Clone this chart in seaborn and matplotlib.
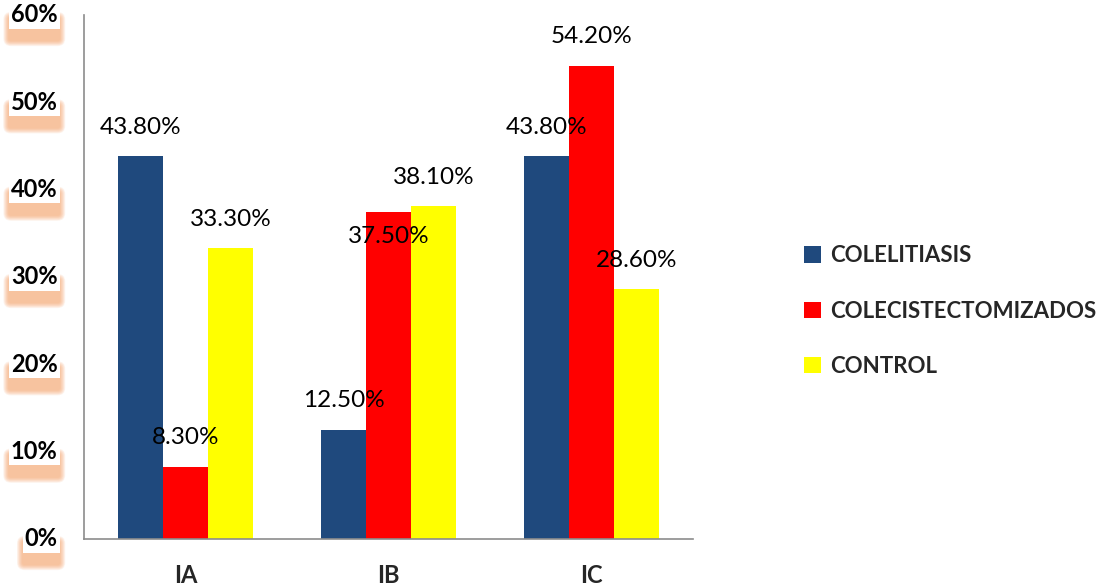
import matplotlib
matplotlib.use("Agg")
import matplotlib.pyplot as plt
import matplotlib.transforms as mtrans
from matplotlib.patches import FancyBboxPatch, Rectangle
import seaborn as sns
import pandas as pd
import numpy as np

categories = ["IA", "IB", "IC"]
series = ["COLELITIASIS", "COLECISTECTOMIZADOS", "CONTROL"]
colelitiasis = [43.8, 12.5, 43.8]
colecistectomizados = [8.3, 37.5, 54.2]
control = [33.3, 38.1, 28.6]
colors = ["#1F497D", "#FF0000", "#FFFF00"]
yticks = [0, 10, 20, 30, 40, 50, 60]

rows = []
for s, vals in zip(series, [colelitiasis, colecistectomizados, control]):
    for c, v in zip(categories, vals):
        rows.append({"cat": c, "serie": s, "val": v})
df = pd.DataFrame(rows)

sns.set_theme(style="white")
plt.rcParams["font.family"] = ["Lato", "DejaVu Sans"]

fig = plt.figure(figsize=(10.99, 5.88), dpi=100)
ax = fig.add_axes([84/1099, 49/588, (693-84)/1099, (539-15)/588])

sns.barplot(data=df, x="cat", y="val", hue="serie", hue_order=series,
            order=categories, palette=colors, width=0.665, gap=0,
            saturation=1, ax=ax, errorbar=None, edgecolor="none", linewidth=0)

ax.set_xlim(-0.5, 2.5)
ax.set_ylim(0, 60)
ax.set_xlabel("")
ax.set_ylabel("")

# label placement: above bar, except where it would collide with the neighbour label
for si, cont in enumerate(ax.containers):
    for ci, bar in enumerate(cont):
        h = bar.get_height()
        dy = 21
        if si == 1 and ci == 1:
            dy = -18
        ax.annotate(f"{h:.2f}%", (bar.get_x() + bar.get_width()/2, h),
                    xytext=(0, dy), textcoords="offset points",
                    ha="center", va="center", fontsize=17.5, color="black",
                    zorder=5)

for sp in ["top", "right"]:
    ax.spines[sp].set_visible(False)
for sp in ["left", "bottom"]:
    ax.spines[sp].set_color("#8c8c8c")
    ax.spines[sp].set_linewidth(1.2)

ax.set_xticks(range(len(categories)))
ax.set_xticklabels(categories, fontsize=17, fontweight="bold")
ax.tick_params(axis="x", which="major", length=0, pad=18)
ax.set_xticks([-0.5, 0.5, 1.5, 2.5], minor=True)
ax.tick_params(axis="x", which="minor", length=8, color="#8c8c8c", width=1.2, direction="out")

ax.set_yticks(yticks)
ax.set_yticklabels([])
ax.tick_params(axis="y", which="major", length=7, color="#8c8c8c", width=1.2, direction="out")
ylabels = []
for v in yticks:
    t = ax.annotate(f"{v}%", (0, v), xycoords=("axes fraction", "data"),
                    xytext=(-19, 0), textcoords="offset points",
                    ha="right", va="center", fontsize=17, fontweight="bold",
                    color="black", zorder=10, annotation_clip=False)
    ylabels.append(t)

leg = ax.legend(loc="center left", bbox_to_anchor=(1.15, 0.435), frameon=False,
                prop={"weight": "bold", "size": 16}, handlelength=0.75, handleheight=0.75,
                labelspacing=1.55, handletextpad=0.4)

ax.set_zorder(5)
ax.patch.set_alpha(0)

fig.canvas.draw()
renderer = fig.canvas.get_renderer()
ident = mtrans.IdentityTransform()
for t in ylabels:
    bb = t.get_window_extent(renderer)
    x0, y0, w, h = bb.x0 - 2, bb.y0 - 2, bb.width + 4, bb.height + 2
    # blurred shadow: many stacked translucent boxes, shrinking inward
    n = 8
    for k in range(n):
        g = (n - k) * 0.7
        fig.add_artist(FancyBboxPatch((x0 - g, y0 - 12 - g), w + 2 * g, h + 2 * g - 2,
                                      boxstyle=f"round,pad=0,rounding_size={2 + g}",
                                      transform=ident, fc="#F7A266", ec="none",
                                      alpha=0.11, zorder=1))
    fig.add_artist(Rectangle((x0, y0), w, h, transform=ident,
                             fc="white", ec="none", zorder=2))

fig.savefig("out.png", dpi=100)
